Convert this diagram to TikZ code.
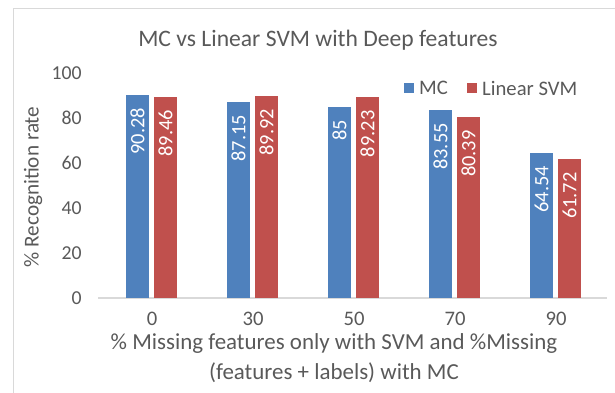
\documentclass[tikz,border=0pt]{standalone}
\usepackage{fontspec}
\setmainfont{Carlito}
\usetikzlibrary{positioning}
\definecolor{mcblue}{HTML}{4F81BD}
\definecolor{svmred}{HTML}{C0504D}
\definecolor{txtgray}{HTML}{595959}
\definecolor{framegray}{HTML}{D9D9D9}

\begin{document}
\begin{tikzpicture}[x=0.75pt,y=0.75pt,
    every node/.style={text=txtgray,font=\fontsize{15.5}{18}\selectfont},
    barlabel/.style={rotate=90,anchor=east,text=white,inner sep=0pt,font=\fontsize{15.3}{18}\selectfont},
    keybox/.style={inner sep=0pt,minimum size=7.5pt}]
    \useasboundingbox (0,0) rectangle (615,393);
    \draw[framegray] (13,0) -- (13,385) -- (615,385);
    % title and axis names
    \node[font=\fontsize{17.7}{21}\selectfont] (title) at (318,353) {MC vs Linear SVM with Deep features};
    \node[rotate=90,font=\fontsize{15.9}{18}\selectfont] (ylab) at (33,206) {\% Recognition rate};
    \node[align=center,inner sep=0pt,font=\fontsize{17.2}{22}\selectfont] (xlab) at (334,35) {\% Missing features only with SVM and \%Missing\\(features + labels) with MC};
    % ticks
    \foreach \v in {0,20,...,100}{\node[anchor=east,inner sep=0pt,font=\fontsize{14.8}{17}\selectfont] (t\v) at (82,95+2.25*\v) {\v};}
    \draw[framegray,thick] (98,95) -- (607,95);
    % bars
    \foreach \mc/\svm/\cat [count=\i from 0] in {90.28/89.46/0,87.15/89.92/30,85/89.23/50,83.55/80.39/70,64.54/61.72/90}{
        \pgfmathsetmacro\c{152+101*\i}
        \fill[mcblue] (\c-26,95) rectangle (\c-3,95+2.25*\mc);
        \fill[svmred] (\c+2,95) rectangle (\c+25,95+2.25*\svm);
        \node[barlabel] (mc\i) at (\c-14.5,95+2.25*\mc-13) {\mc};
        \node[barlabel] (svm\i) at (\c+13.5,95+2.25*\svm-13) {\svm};
        \node[inner sep=0pt] (cat\i) at (\c,74) {\cat};
    }
    % legend
    \node[keybox,fill=mcblue] (keymc) at (409,305) {};
    \node[right=3.5pt of keymc,inner sep=0pt] (legmc) {MC};
    \node[keybox,fill=svmred] (keysvm) at (472,305) {};
    \node[right=3.5pt of keysvm,inner sep=0pt] (legsvm) {Linear SVM};
\end{tikzpicture}
\end{document}
